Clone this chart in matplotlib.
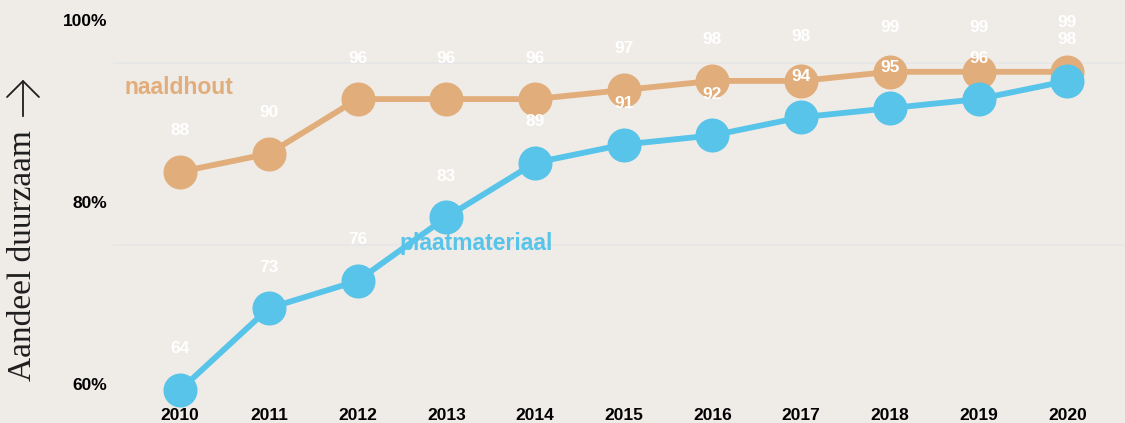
import numpy as np
import matplotlib
matplotlib.use('Agg')
import matplotlib.pyplot as plt
from matplotlib.patches import FancyArrowPatch

jaren = [2010, 2011, 2012, 2013, 2014, 2015, 2016, 2017, 2018, 2019, 2020]
naaldhout = [88, 90, 96, 96, 96, 97, 98, 98, 99, 99, 99]
plaatmateriaal = [64, 73, 76, 83, 89, 91, 92, 94, 95, 96, 98]
yticks = [60, 80, 100]
ytick_labels = ['60%', '80%', '100%']

BG = '#efebe7'
TAN = '#e1ae7b'
BLUE = '#58c4e9'
FONT = 'Liberation Sans'

fig = plt.figure(figsize=(11.25, 4.23), dpi=100, facecolor=BG)
ax = fig.add_axes([0, 0, 1, 1], facecolor=BG)
ax.set_xlim(2007.97, 2020.65)
ax.set_ylim(60.37, 106.9)
for s in ax.spines.values():
    s.set_visible(False)
ax.set_xticks([])
ax.set_yticks([])

# gridlines
for v in yticks:
    ax.axhline(v, xmin=114 / 1125, xmax=1, color='#e6e7e7', lw=1.2, zorder=1)

# y tick labels, drawn 40 px above their gridline
for v, lab in zip(yticks, ytick_labels):
    ax.annotate(lab, xy=(0, v), xycoords=('axes fraction', 'data'),
                xytext=(107, 41), textcoords='offset pixels',
                ha='right', va='center', fontsize=12.5, fontweight='bold',
                family=FONT, color='black', annotation_clip=False)

# x tick labels
for j in jaren:
    ax.annotate(str(j), xy=(j, 0), xycoords=('data', 'axes fraction'),
                xytext=(0, 8), textcoords='offset pixels',
                ha='center', va='center', fontsize=12.5, fontweight='bold',
                family=FONT, color='black')

# series labels (below the lines)
ax.text(124 / 1125, 1 - 87 / 423, 'naaldhout', transform=ax.transAxes,
        ha='left', va='center', fontsize=16.5, fontweight='bold',
        family=FONT, color=TAN, zorder=2)
ax.text(399 / 1125, 1 - 243 / 423, 'plaatmateriaal', transform=ax.transAxes,
        ha='left', va='center', fontsize=16.5, fontweight='bold',
        family=FONT, color=BLUE, zorder=2)

ax.plot(jaren, naaldhout, color=TAN, lw=4.2, marker='o', markersize=23.5,
        zorder=3, clip_on=False)
ax.plot(jaren, plaatmateriaal, color=BLUE, lw=4.2, marker='o', markersize=23.5,
        zorder=4, clip_on=False)

# value labels ~40 px above the point, pushed up a bit where they collide
for serie, andere in ((plaatmateriaal, None), (naaldhout, plaatmateriaal)):
    for i, (j, v) in enumerate(zip(jaren, serie)):
        dy = 41
        if andere is not None and 0 < v - andere[i] < 2:
            dy = 49
        elif andere is not None and 0 < v - andere[i] < 5:
            dy = 44
        ax.annotate(str(v), xy=(j, v), xytext=(0, dy), textcoords='offset pixels',
                    ha='center', va='center', fontsize=12.5, fontweight='bold',
                    family=FONT, color='white', zorder=6)

fig.text(23 / 1125, 1 - 381 / 423, 'Aandeel duurzaam', rotation=90,
         ha='center', va='bottom', fontsize=24, family='Liberation Serif',
         color='#1e1e1e')
pijl = FancyArrowPatch((23 / 1125, 1 - 119 / 423), (23 / 1125, 1 - 77 / 423),
                       transform=fig.transFigure,
                       arrowstyle='->,head_length=11.5,head_width=11.5',
                       color='#1e1e1e', lw=1.3, mutation_scale=1)
fig.add_artist(pijl)

fig.savefig('out.png', dpi=100, facecolor=BG)
